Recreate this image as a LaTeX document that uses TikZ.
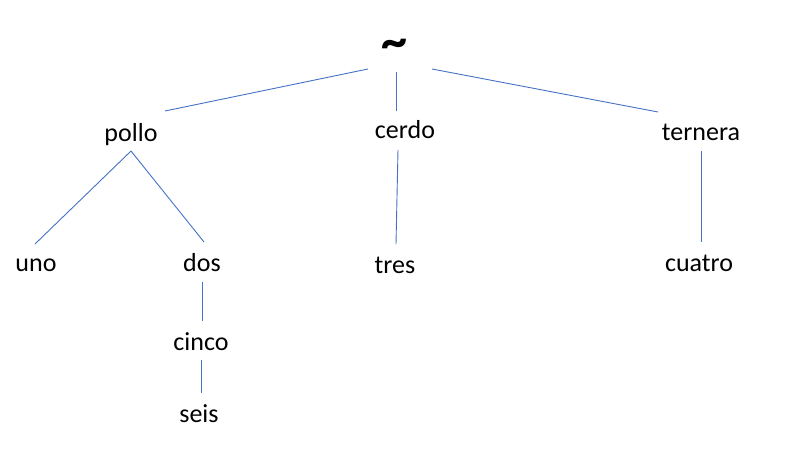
\documentclass[tikz,border=0pt]{standalone}
\usepackage{fontspec}
\setmainfont{Carlito}
\begin{document}
\begin{tikzpicture}[x=1pt,y=-1pt,
  lbl/.style={anchor=base,inner sep=0pt,font=\fontsize{26}{30}\selectfont},
  edge/.style={draw=lineblue,line width=0.9pt}]
\definecolor{lineblue}{HTML}{4472C4}
\useasboundingbox (0,0) rectangle (804,452);
\node[anchor=base,inner sep=0pt,font=\fontsize{52}{56}\bfseries\selectfont] (root) at (394,59) {\textasciitilde};
\node[lbl] (pollo) at (131,141) {pollo};
\node[lbl] (cerdo) at (405,139) {cerdo};
\node[lbl] (ternera) at (701,140) {ternera};
\node[lbl] (uno) at (36,271) {uno};
\node[lbl] (dos) at (202,271) {dos};
\node[lbl] (tres) at (395,273) {tres};
\node[lbl] (cuatro) at (699,271) {cuatro};
\node[lbl] (cinco) at (201,350) {cinco};
\node[lbl] (seis) at (199,422) {seis};
\draw[edge] ([shift={(-26,10)}]root.base) -- ([shift={(34,-30)}]pollo.base);
\draw[edge] ([shift={(2,13)}]root.base) -- ([shift={(-9,-28)}]cerdo.base);
\draw[edge] ([shift={(38,10)}]root.base) -- ([shift={(-43,-28)}]ternera.base);
\draw[edge] ([shift={(0,10)}]pollo.base) -- ([shift={(-1,-27)}]uno.base);
\draw[edge] ([shift={(0,10)}]pollo.base) -- ([shift={(2,-29)}]dos.base);
\draw[edge] ([shift={(-7,11)}]cerdo.base) -- ([shift={(1,-29)}]tres.base);
\draw[edge] ([shift={(0,11)}]ternera.base) -- ([shift={(2,-29)}]cuatro.base);
\draw[edge] ([shift={(0,11)}]dos.base) -- ([shift={(1,-29)}]cinco.base);
\draw[edge] ([shift={(0,10)}]cinco.base) -- ([shift={(2,-29)}]seis.base);
\end{tikzpicture}
\end{document}
